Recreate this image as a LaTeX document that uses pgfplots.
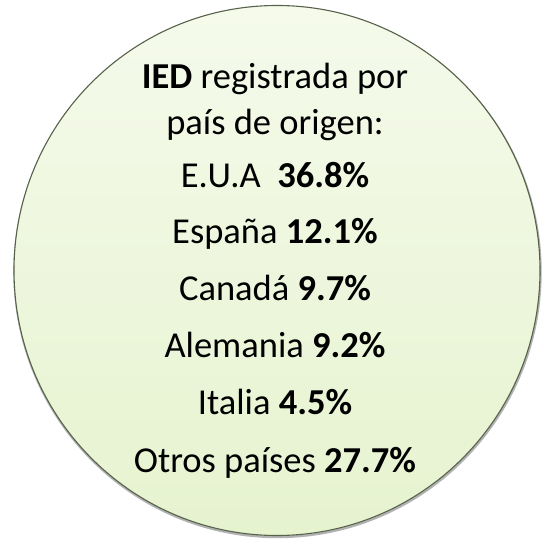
\documentclass[border=0pt]{standalone}
\usepackage{pgfplots}
\pgfplotsset{compat=1.18}
\usepackage{fontspec}
\setmainfont{Carlito}

\definecolor{topgreen}{HTML}{F5FAEB}
\definecolor{botgreen}{HTML}{E6F3CF}
\definecolor{rim}{HTML}{56624A}

% baseline y (from bottom) of each text line
\newcommand{\linetxt}[2]{\node[anchor=base, inner sep=0pt] at (axis cs:275,#1) {#2};}

\begin{document}
\begin{tikzpicture}
    \begin{axis}[
        width=544bp, height=539bp,
        scale only axis,
        xmin=0, xmax=544,
        ymin=0, ymax=539,
        hide axis,
        clip=false,
        ]
        \path (axis cs:0,0) rectangle (axis cs:544,539);
        % soft shadow under the rim
        \draw[black!55, line width=2.4bp, opacity=0.55]
            (axis cs:277.5,267) ellipse [x radius=263, y radius=265];
        \draw[rim, line width=1.1bp, top color=topgreen, bottom color=botgreen]
            (axis cs:277,268.5) ellipse [x radius=263, y radius=265];

        \fontsize{36.5bp}{43bp}\selectfont
        \linetxt{450}{\textbf{IED} registrada por}
        \linetxt{404}{país de origen:}
        \linetxt{351}{E.U.A\ \ \textbf{36.8\%}}
        \linetxt{295}{España \textbf{12.1\%}}
        \linetxt{238}{Canadá \textbf{9.7\%}}
        \linetxt{181}{Alemania \textbf{9.2\%}}
        \linetxt{124}{Italia \textbf{4.5\%}}
        \linetxt{66}{Otros países \textbf{27.7\%}}
    \end{axis}
\end{tikzpicture}
\end{document}
